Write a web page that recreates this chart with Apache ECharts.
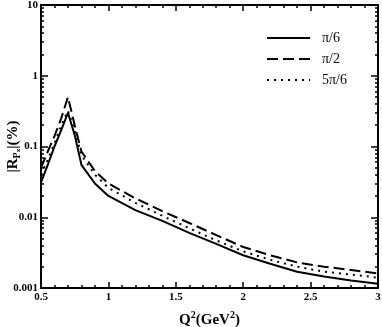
<!DOCTYPE html>
<html>
<head>
<meta charset="utf-8">
<script src="https://cdn.jsdelivr.net/npm/echarts@6/dist/echarts.min.js"></script>
<style>
  html, body { margin: 0; padding: 0; background: #fff; }
  #chart { width: 382px; height: 327px; }
</style>
</head>
<body>
<div id="chart"></div>
<script>
var q2 = [0.5, 0.55, 0.6, 0.65, 0.7, 0.75, 0.8, 0.9, 1.0, 1.2, 1.4, 1.6, 1.8, 2.0, 2.2, 2.4, 2.6, 2.8, 3.0];
var rPi6 = [0.031, 0.055, 0.1, 0.17, 0.30, 0.145, 0.055, 0.03, 0.020, 0.0126, 0.0089, 0.006, 0.0042, 0.0029, 0.0022, 0.0017, 0.00145, 0.00128, 0.00115];
var rPi2 = [0.05, 0.085, 0.14, 0.25, 0.5, 0.2, 0.085, 0.045, 0.030, 0.0185, 0.0122, 0.0083, 0.0056, 0.0038, 0.0029, 0.0023, 0.002, 0.0018, 0.0016];
var r5Pi6 = [0.04, 0.065, 0.11, 0.2, 0.32, 0.17, 0.075, 0.04, 0.026, 0.016, 0.0105, 0.007, 0.0047, 0.0033, 0.0025, 0.002, 0.0017, 0.00155, 0.0014];
var xTicks = ['0.5', '1', '1.5', '2', '2.5', '3'];
var yTicks = ['0.001', '0.01', '0.1', '1', '10'];

function pairs(ys) {
  var out = [];
  for (var i = 0; i < q2.length; i++) out.push([q2[i], ys[i]]);
  return out;
}

var chart = echarts.init(document.getElementById('chart'));
var serif = '"Liberation Serif", "DejaVu Serif", serif';
var axisLine = { show: true, onZero: false, lineStyle: { color: '#000', width: 2 } };

chart.setOption({
  animation: false,
  grid: { left: 41, right: 4, top: 5, bottom: 39, containLabel: false, outerBoundsMode: 'none' },
  legend: {
    right: 30, top: 26, orient: 'vertical',
    itemWidth: 43, itemHeight: 14, itemGap: 7,
    itemStyle: { opacity: 0 },
    textStyle: { fontFamily: serif, fontSize: 14, color: '#000', padding: [0, 0, 0, 7] },
    data: ['π/6', 'π/2', '5π/6']
  },
  xAxis: [{
    type: 'value', min: 0.5, max: 3, interval: 0.5,
    axisLine: axisLine,
    axisTick: { inside: true, length: 6, lineStyle: { color: '#000', width: 1.5 } },
    minorTick: { show: true, splitNumber: 5, length: 3, lineStyle: { color: '#000', width: 1.5 } },
    splitLine: { show: false },
    axisLabel: {
      fontFamily: serif, fontWeight: 'bold', fontSize: 11, color: '#000', margin: 4,
      formatter: function (v) { return xTicks[Math.round((v - 0.5) / 0.5)]; }
    },
    name: '{b|Q}{s|2}{b|(GeV}{s|2}{b|)}',
    nameLocation: 'middle', nameGap: 22, nameMoveOverlap: false,
    nameTextStyle: {
      rich: {
        b: { fontFamily: serif, fontWeight: 'bold', fontSize: 15, color: '#000', verticalAlign: 'bottom' },
        s: { fontFamily: serif, fontWeight: 'bold', fontSize: 10, color: '#000', verticalAlign: 'top', padding: [0, 0, 8, 0] }
      }
    }
  }, {
    type: 'value', position: 'top', min: 0.5, max: 3, interval: 0.5,
    axisLine: axisLine,
    axisTick: { inside: true, length: 6, lineStyle: { color: '#000', width: 1.5 } },
    minorTick: { show: true, splitNumber: 5, length: 3, lineStyle: { color: '#000', width: 1.5 } },
    splitLine: { show: false },
    axisLabel: { show: false }
  }],
  yAxis: [{
    type: 'log', min: 0.001, max: 10, logBase: 10,
    axisLine: axisLine,
    axisTick: { inside: true, length: 7, lineStyle: { color: '#000', width: 1.5 } },
    minorTick: { show: true, splitNumber: 9, length: 3, lineStyle: { color: '#000', width: 1.5 } },
    splitLine: { show: false },
    axisLabel: {
      fontFamily: serif, fontWeight: 'bold', fontSize: 11, color: '#000', margin: 3,
      formatter: function (v) { return yTicks[Math.round(Math.log10(v) + 3)]; }
    },
    name: '{b||R}{s|P}{t|x}{b||(%)}',
    nameLocation: 'middle', nameGap: 19, nameRotate: 90, nameMoveOverlap: false,
    nameTextStyle: {
      rich: {
        b: { fontFamily: serif, fontWeight: 'bold', fontSize: 15, color: '#000' },
        s: { fontFamily: serif, fontWeight: 'bold', fontSize: 10, color: '#000', verticalAlign: 'bottom', padding: [6, 0, 0, 0] },
        t: { fontFamily: serif, fontWeight: 'bold', fontSize: 7, color: '#000', verticalAlign: 'bottom', padding: [10, 0, 0, 0] }
      }
    }
  }, {
    type: 'log', position: 'right', min: 0.001, max: 10, logBase: 10,
    axisLine: axisLine,
    axisTick: { inside: true, length: 7, lineStyle: { color: '#000', width: 1.5 } },
    minorTick: { show: true, splitNumber: 9, length: 3, lineStyle: { color: '#000', width: 1.5 } },
    splitLine: { show: false },
    axisLabel: { show: false }
  }],
  series: [{
    name: 'π/6', type: 'line', symbol: 'none', data: pairs(rPi6),
    lineStyle: { color: '#000', width: 2 }, itemStyle: { color: '#000' }
  }, {
    name: 'π/2', type: 'line', symbol: 'none', data: pairs(rPi2),
    lineStyle: { color: '#000', width: 2, type: [11, 5] }, itemStyle: { color: '#000' }
  }, {
    name: '5π/6', type: 'line', symbol: 'none', data: pairs(r5Pi6),
    lineStyle: { color: '#000', width: 2, type: [2, 5] }, itemStyle: { color: '#000' }
  }]
});
</script>
</body>
</html>
